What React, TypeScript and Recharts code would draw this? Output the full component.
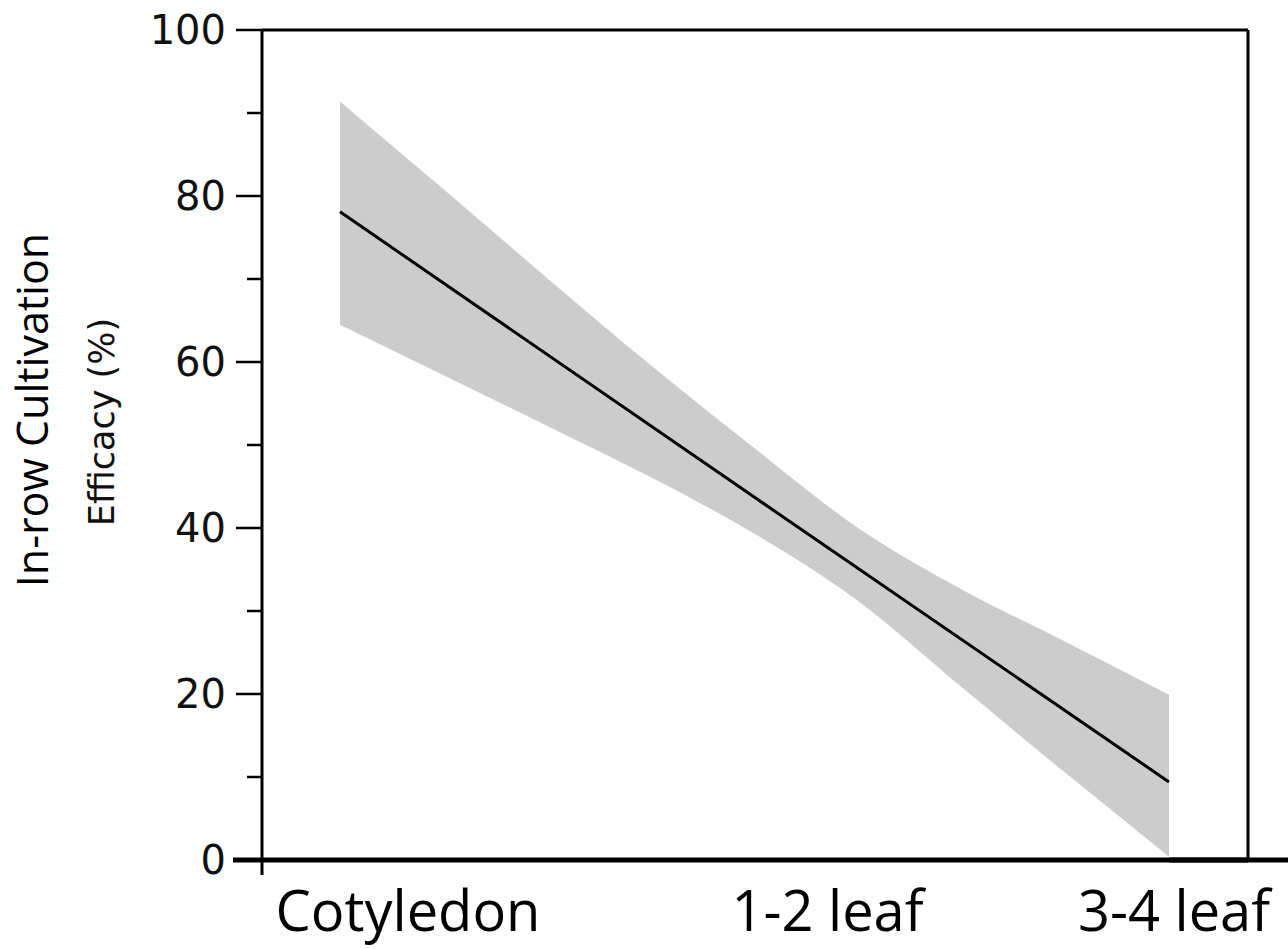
import React from 'react';
import { ComposedChart, Area, Line, XAxis, YAxis, ReferenceLine } from 'recharts';

// growth stage positions (1 = Cotyledon, 2 = 1-2 leaf, 3 = 3-4 leaf)
const stageTicks = [1, 2, 3];
const stageLabels = ['Cotyledon', '1-2 leaf', '3-4 leaf'];

// confidence band
const bandX = [1, 1.25, 1.5, 1.75, 2, 2.25, 2.5, 2.75, 3];
const bandLow = [64.5, 58.4, 52.3, 46.1, 39.3, 31.2, 20.8, 10.5, 0.4];
const bandHigh = [91.4, 80.8, 70.1, 59.6, 49.6, 40.0, 32.6, 26.3, 19.9];

// fitted line
const fitX = [1, 2, 3];
const fitValues = [78.1, 43.7, 9.4];

const yTicks = [0, 10, 20, 30, 40, 50, 60, 70, 80, 90, 100];

const data = bandX.map((x, i) => {
  const fi = fitX.indexOf(x);
  return {
    stage: x,
    band: [bandLow[i], bandHigh[i]],
    fit: fi >= 0 ? fitValues[fi] : null,
  };
});

// labels were placed by hand in the original, a bit right of the data points
const labelShift = [68, 73, 5];

const YTick = (props: any) => {
  const { x, y, payload } = props;
  const v = payload.value;
  const major = v % 20 === 0;
  return (
    <g>
      <line
        x1={x - (major ? (v === 0 ? 29 : 26) : 15)}
        x2={x}
        y1={y}
        y2={y}
        stroke="#000"
        strokeWidth={v === 0 ? 5 : 2.5}
      />
      {v === 0 && <line x1={x} x2={x} y1={y} y2={y + 15} stroke="#000" strokeWidth={3} />}
      {major && (
        <text
          x={x - 36}
          y={y}
          dy={14}
          textAnchor="end"
          fontFamily="DejaVu Sans"
          fontSize={40}
          fill="#111"
        >
          {v}
        </text>
      )}
    </g>
  );
};

const XTick = (props: any) => {
  const { x, y, index } = props;
  return (
    <text
      x={x + labelShift[index]}
      y={y + 71}
      textAnchor="middle"
      fontFamily="Open Sans"
      fontSize={56}
      fill="#000"
    >
      {stageLabels[index]}
    </text>
  );
};

const YTitle = () => (
  <g>
    <text
      transform="translate(48, 410) rotate(-90)"
      textAnchor="middle"
      fontFamily="Open Sans"
      fontSize={43}
      fill="#000"
    >
      In-row Cultivation
    </text>
    <text
      transform="translate(114, 422) rotate(-90)"
      textAnchor="middle"
      fontFamily="DejaVu Sans"
      fontSize={35}
      fill="#111"
    >
      Efficacy (%)
    </text>
  </g>
);

export default function App() {
  return (
    <div style={{ width: 1288, height: 949, background: '#fff' }}>
      <style>{'body{margin:0}'}</style>
      <ComposedChart
        width={1288}
        height={949}
        data={data}
        margin={{ top: 30, right: 39, left: 0, bottom: 0 }}
      >
        <XAxis
          dataKey="stage"
          type="number"
          domain={[1, 3]}
          ticks={stageTicks}
          padding={{ left: 78, right: 79 }}
          height={89}
          tickLine={false}
          tickSize={0}
          tickMargin={0}
          tick={<XTick />}
          axisLine={{ stroke: '#000', strokeWidth: 5 }}
          interval={0}
        />
        <YAxis
          domain={[0, 100]}
          ticks={yTicks}
          width={262}
          tickLine={false}
          tickSize={0}
          tickMargin={0}
          tick={<YTick />}
          interval={0}
          axisLine={{ stroke: '#000', strokeWidth: 3 }}
          label={() => <YTitle />}
        />
        <YAxis
          yAxisId="frame"
          orientation="right"
          domain={[0, 100]}
          width={1}
          tick={false}
          tickLine={false}
          axisLine={{ stroke: '#000', strokeWidth: 3 }}
        />
        <Area
          type="monotone"
          dataKey="band"
          stroke="none"
          fill="#cccccc"
          fillOpacity={1}
          isAnimationActive={false}
        />
        <Line
          type="linear"
          dataKey="fit"
          stroke="#000"
          strokeWidth={3}
          dot={false}
          connectNulls
          isAnimationActive={false}
        />
        <ReferenceLine y={100} stroke="#000" strokeWidth={3} />
        <ReferenceLine
          segment={[{ x: 3, y: 0 }, { x: 4, y: 0 }]}
          stroke="#000"
          strokeWidth={5}
          ifOverflow="visible"
        />
      </ComposedChart>
    </div>
  );
}
